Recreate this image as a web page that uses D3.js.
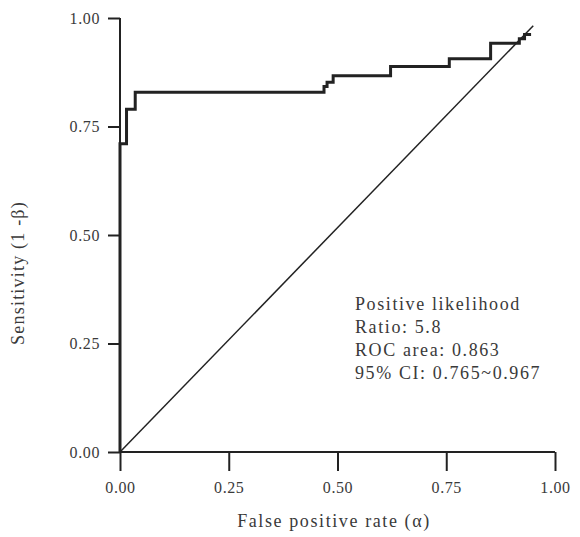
<!DOCTYPE html>
<html>
<head>
<meta charset="utf-8">
<script src="https://cdn.jsdelivr.net/npm/d3@7"></script>
<style>
  body { margin: 0; background: #fff; }
  svg text { font-family: "Liberation Serif", "DejaVu Serif", serif !important; fill: #3a3a3a; }
</style>
</head>
<body>
<div id="chart"></div>
<script>
// ROC step curve (false positive rate, sensitivity).
var rocFpr  = [0, 0,    0.015, 0.015, 0.035, 0.035, 0.469, 0.469, 0.476, 0.476, 0.49,  0.49,
               0.622, 0.622, 0.757, 0.757, 0.852, 0.852, 0.918, 0.918, 0.93, 0.93, 0.945];
var rocSens = [0, 0.71, 0.71,  0.79,  0.79,  0.829, 0.829, 0.842, 0.842, 0.852, 0.852, 0.867,
               0.867, 0.888, 0.888, 0.906, 0.906, 0.942, 0.942, 0.952, 0.952, 0.962, 0.962];

// Reference diagonal.
var diagFpr  = [0, 0.95];
var diagSens = [0, 0.982];

var tickValues = [0, 0.25, 0.5, 0.75, 1];
var tickLabels = ["0.00", "0.25", "0.50", "0.75", "1.00"];

var noteLines = ["Positive likelihood", "Ratio: 5.8", "ROC area: 0.863", "95% CI: 0.765~0.967"];

var xTitle = "False positive rate (\u03b1)";
var yTitle = "Sensitivity (1 -\u03b2)";

/* ---------------------------------------------------------- */
var width = 580, height = 537;
var svg = d3.select("#chart").append("svg")
            .attr("width", width)
            .attr("height", height);

var x = d3.scaleLinear().domain([0, 1]).range([120, 555]);
var y = d3.scaleLinear().domain([0, 1]).range([452, 18]);

// Axes.
var xAxis = d3.axisBottom(x).tickValues(tickValues)
              .tickFormat(function(d, i) { return tickLabels[i]; })
              .tickSize(19).tickPadding(11);
var yAxis = d3.axisLeft(y).tickValues(tickValues)
              .tickFormat(function(d, i) { return tickLabels[i]; })
              .tickSize(12).tickPadding(8);

var gx = svg.append("g").attr("transform", "translate(0," + y(0) + ")").call(xAxis);
var gy = svg.append("g").attr("transform", "translate(" + x(0) + ",0)").call(yAxis);

[gx, gy].forEach(function(g) {
    g.attr("font-family", null);
    g.select(".domain").attr("stroke", "#222").attr("stroke-width", 2);
    g.selectAll(".tick line").attr("stroke", "#222").attr("stroke-width", 2);
    g.selectAll(".tick text")
     .attr("font-size", 16)
     .attr("letter-spacing", 0.6)
     .attr("fill", "#444");
});
gy.select(".domain").attr("d", "M0," + y(0) + "V" + y(1));
gx.select(".domain").attr("d", "M" + x(0) + ",0H" + x(1));

// Diagonal.
var diag = diagFpr.map(function(d, i) { return [d, diagSens[i]]; });
svg.append("path")
   .datum(diag)
   .attr("fill", "none")
   .attr("stroke", "#222")
   .attr("stroke-width", 1.5)
   .attr("d", d3.line().x(function(d) { return x(d[0]); }).y(function(d) { return y(d[1]); }));

// ROC curve.
var roc = rocFpr.map(function(d, i) { return [d, rocSens[i]]; });
svg.append("path")
   .datum(roc)
   .attr("fill", "none")
   .attr("stroke", "#222")
   .attr("stroke-width", 3)
   .attr("stroke-linejoin", "miter")
   .attr("d", d3.line().x(function(d) { return x(d[0]); }).y(function(d) { return y(d[1]); }));

// Annotation.
svg.append("g").selectAll("text")
   .data(noteLines).enter().append("text")
   .attr("x", 355)
   .attr("y", function(d, i) { return 310 + i * 23; })
   .attr("font-size", 18)
   .attr("letter-spacing", 1.6)
   .text(function(d) { return d; });

// Axis titles.
svg.append("text")
   .attr("x", 334).attr("y", 527)
   .attr("text-anchor", "middle")
   .attr("font-size", 18)
   .attr("letter-spacing", 1.6)
   .text(xTitle);

svg.append("text")
   .attr("transform", "translate(24,273) rotate(-90)")
   .attr("text-anchor", "middle")
   .attr("font-size", 18)
   .attr("letter-spacing", 1.2)
   .text(yTitle);
</script>
</body>
</html>
